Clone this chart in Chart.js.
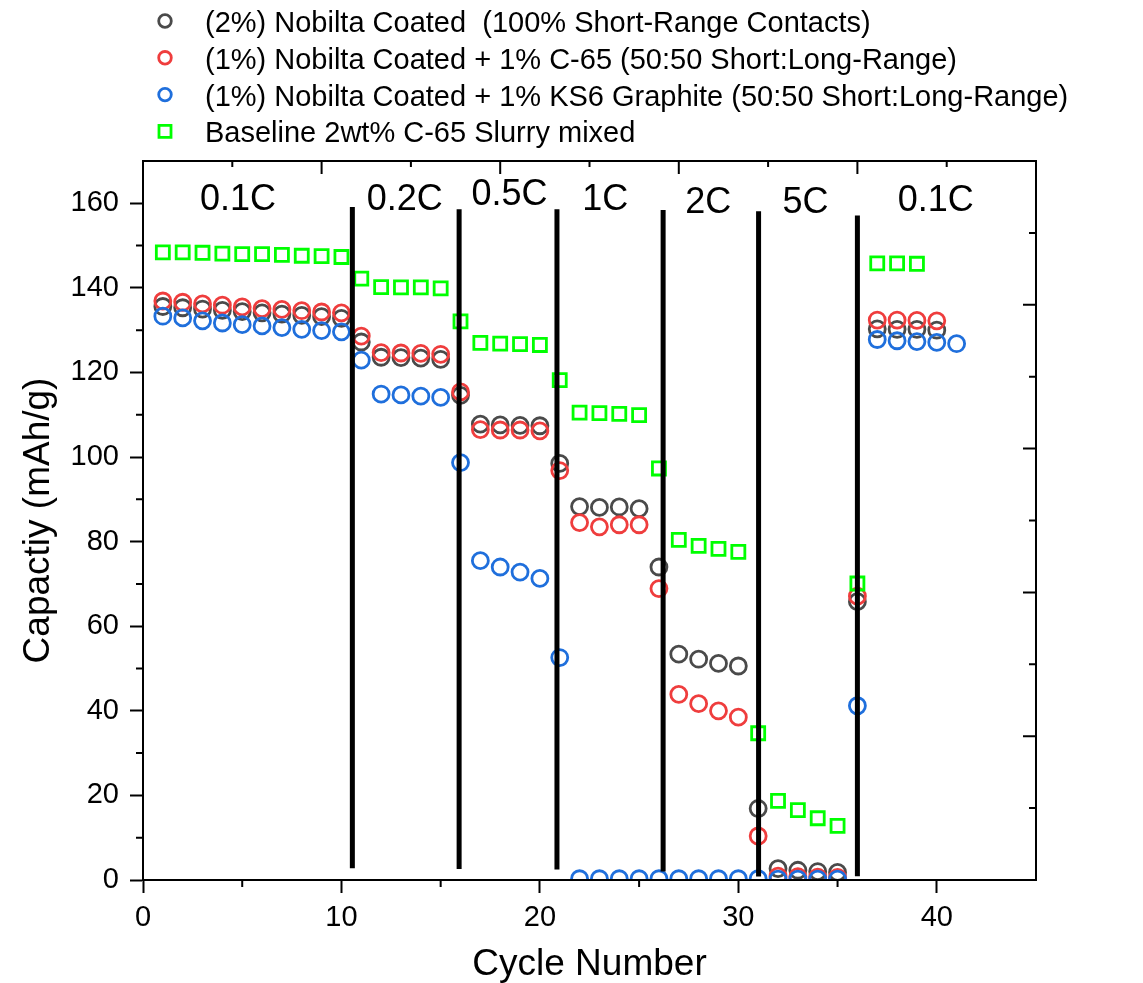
<!DOCTYPE html>
<html>
<head>
<meta charset="utf-8">
<title>Rate capability</title>
<script src="https://cdn.jsdelivr.net/npm/chart.js@4.4.1/dist/chart.umd.min.js"></script>
<style>
  html, body { margin: 0; padding: 0; background: #ffffff; }
  #wrap { width: 1143px; height: 983px; }
</style>
</head>
<body>
<div id="wrap"><canvas id="rateChart" width="1143" height="983"></canvas></div>
<script>
// ---- data ----
const cycles = [1,2,3,4,5,6,7,8,9,10,11,12,13,14,15,16,17,18,19,20,21,22,23,24,25,26,27,28,29,30,31,32,33,34,35,36,37,38,39,40,41];

// (2%) Nobilta coated, 100% short-range contacts
const nobilta2 = [135.6,135.3,135.0,134.7,134.4,134.1,133.8,133.5,133.2,132.8,
                  127.2,123.6,123.5,123.4,123.1,
                  114.6,107.8,107.6,107.5,107.4,
                  98.5,88.3,88.1,88.2,87.8,
                  74.0,53.4,52.2,51.2,50.6,
                  16.9,2.7,2.3,2.0,1.8,
                  65.8,130.3,130.2,130.2,130.0,null];

// (1%) Nobilta coated + 1% C-65
const nobiltaC65 = [136.9,136.6,136.2,135.9,135.5,135.1,134.9,134.6,134.3,134.1,
                    128.6,124.7,124.6,124.5,124.3,
                    115.4,106.5,106.4,106.4,106.2,
                    96.8,84.5,83.5,84.0,84.0,
                    68.9,43.9,41.7,40.0,38.5,
                    10.4,0.9,0.8,0.7,0.6,
                    67.1,132.4,132.4,132.3,132.2,null];

// (1%) Nobilta coated + 1% KS6 graphite
const nobiltaKS6 = [133.3,132.9,132.2,131.7,131.3,131.0,130.6,130.2,129.9,129.6,
                    122.9,114.9,114.7,114.4,114.1,
                    98.7,75.5,74.0,72.8,71.3,
                    52.6,0.3,0.3,0.3,0.3,
                    0.3,0.3,0.3,0.3,0.3,
                    0.3,0.2,0.2,0.2,0.2,
                    41.2,127.8,127.5,127.3,127.1,126.8];

// Baseline 2wt% C-65, slurry mixed
const baselineC65 = [148.4,148.4,148.3,148.1,148.0,148.0,147.8,147.6,147.5,147.3,
                     142.2,140.2,140.1,140.1,139.9,
                     132.1,127.0,126.8,126.7,126.5,
                     118.2,110.5,110.4,110.2,109.9,
                     97.3,80.4,79.0,78.3,77.6,
                     34.7,18.7,16.5,14.6,12.8,
                     70.1,145.8,145.8,145.7,null,null];

const seriesNames = [
  '(2%) Nobilta Coated  (100% Short-Range Contacts)',
  '(1%) Nobilta Coated + 1% C-65 (50:50 Short:Long-Range)',
  '(1%) Nobilta Coated + 1% KS6 Graphite (50:50 Short:Long-Range)',
  'Baseline 2wt% C-65 Slurry mixed'
];

// C-rate steps: boundaries between steps (cycle number) and the span of each separator line
const stepBounds = [10.55, 15.93, 20.86, 26.21, 31.02, 36.0];
const stepLineLow = [2.8, 2.6, 2.5, 2.0, 0.8, 0.9];
const stepLineHigh = [159.1, 158.6, 158.6, 158.4, 158.1, 157.1];

// C-rate names with their anchor (cycle, capacity) for the text baseline
const rateNames = ['0.1C', '0.2C', '0.5C', '1C', '2C', '5C', '0.1C'];
const rateAt = [4.79, 13.19, 18.47, 23.29, 28.48, 33.39, 39.95];
const rateBase = [158.4, 158.5, 159.6, 158.4, 157.6, 157.6, 158.2];

const xTicks = [0, 10, 20, 30, 40];
const yTicks = [0, 20, 40, 60, 80, 100, 120, 140, 160];

// ---- helpers ----
const FONT = '"Liberation Sans", Arial, Helvetica, sans-serif';

function toPoints(values) {
  const pts = [];
  values.forEach((v, i) => { if (v !== null) pts.push({ x: cycles[i], y: v }); });
  return pts;
}

function markerSet(label, values, color, shape, order) {
  const isRect = shape === 'rect';
  return {
    label: label,
    data: toPoints(values),
    inKey: true,
    pointStyle: shape,
    pointRadius: isRect ? 9.2 : 8,
    pointBorderWidth: 2.8,
    pointBorderColor: color,
    pointBackgroundColor: 'rgba(0,0,0,0)',
    borderColor: color,
    backgroundColor: 'rgba(0,0,0,0)',
    showLine: false,
    clip: 0,
    order: order
  };
}

const datasets = [
  markerSet(seriesNames[0], nobilta2, '#4a4a4a', 'circle', 4),
  markerSet(seriesNames[1], nobiltaC65, '#ef3d3d', 'circle', 3),
  markerSet(seriesNames[2], nobiltaKS6, '#1f6fdc', 'circle', 2),
  markerSet(seriesNames[3], baselineC65, '#00ff00', 'rect', 1)
];

stepBounds.forEach((c, i) => {
  datasets.push({
    label: 'step ' + (i + 1),
    data: [{ x: c, y: stepLineLow[i] }, { x: c, y: stepLineHigh[i] }],
    inKey: false,
    showLine: true,
    borderColor: '#000000',
    borderWidth: 5,
    pointRadius: 0,
    order: 0
  });
});

// ---- plugins ----
// Closed frame: top/right axis lines with inward ticks, plus minor ticks on bottom/left
const framePlugin = {
  id: 'frame',
  afterDraw(chart) {
    const { ctx, chartArea: a } = chart;
    const xs = chart.scales.x, ys = chart.scales.y;
    ctx.save();
    ctx.strokeStyle = '#000';
    ctx.lineWidth = 2;
    ctx.beginPath();
    ctx.moveTo(a.left - 1, a.top);
    ctx.lineTo(a.right, a.top);
    ctx.lineTo(a.right, a.bottom + 1);
    ctx.stroke();

    ctx.beginPath();
    // minor ticks, outward
    for (let v = 5; v < 45; v += 10) {
      const px = xs.getPixelForValue(v);
      ctx.moveTo(px, a.bottom); ctx.lineTo(px, a.bottom + 7);
    }
    for (let v = 10; v < 170; v += 20) {
      const py = ys.getPixelForValue(v);
      ctx.moveTo(a.left, py); ctx.lineTo(a.left - 7, py);
    }
    // top axis: ten divisions, inward
    for (let k = 1; k < 10; k++) {
      const px = xs.getPixelForValue(xs.max * k / 10);
      ctx.moveTo(px, a.top); ctx.lineTo(px, a.top + (k % 2 === 0 ? 13 : 6));
    }
    // right axis: ten divisions, inward
    for (let k = 1; k < 10; k++) {
      const py = ys.getPixelForValue(ys.max * k / 10);
      ctx.moveTo(a.right, py); ctx.lineTo(a.right - (k % 2 === 0 ? 13 : 7), py);
    }
    ctx.stroke();
    ctx.restore();
  }
};

// C-rate names above each step
const ratePlugin = {
  id: 'rateNames',
  afterDatasetsDraw(chart) {
    const { ctx } = chart;
    const xs = chart.scales.x, ys = chart.scales.y;
    ctx.save();
    ctx.fillStyle = '#000';
    ctx.font = '36px ' + FONT;
    ctx.textAlign = 'center';
    ctx.textBaseline = 'alphabetic';
    rateNames.forEach((t, i) => {
      ctx.fillText(t, xs.getPixelForValue(rateAt[i]), ys.getPixelForValue(rateBase[i]));
    });
    ctx.restore();
  }
};

// Series key stacked above the plot
const keyPlugin = {
  id: 'seriesKey',
  afterDraw(chart) {
    const { ctx } = chart;
    const sets = chart.data.datasets.filter(d => d.inKey);
    ctx.save();
    ctx.font = '29px ' + FONT;
    ctx.textAlign = 'left';
    ctx.textBaseline = 'alphabetic';
    sets.forEach((ds, i) => {
      const base = 32 + i * 36.8;
      const cy = base - 11;
      const cx = 165;
      ctx.strokeStyle = ds.pointBorderColor;
      ctx.lineWidth = 2.8;
      ctx.beginPath();
      if (ds.pointStyle === 'rect') {
        ctx.rect(cx - 6, cy - 6, 12, 12);
      } else {
        ctx.arc(cx, cy, 6.3, 0, Math.PI * 2);
      }
      ctx.stroke();
      ctx.fillStyle = '#000';
      ctx.fillText(ds.label, 205, base);
    });
    ctx.restore();
  }
};

// ---- chart ----
new Chart(document.getElementById('rateChart'), {
  type: 'scatter',
  data: { datasets: datasets },
  options: {
    responsive: false,
    animation: false,
    events: [],
    layout: { padding: { left: 0, right: 107, top: 161, bottom: 0 } },
    plugins: { legend: { display: false }, tooltip: { enabled: false } },
    scales: {
      x: {
        type: 'linear',
        min: 0, max: 45,
        afterFit(s) { s.height = 103; },
        afterBuildTicks(s) { s.ticks = xTicks.map(v => ({ value: v })); },
        ticks: { color: '#000', font: { family: FONT, size: 29 }, padding: 8 },
        grid: { drawOnChartArea: false, drawTicks: true, tickLength: 13, tickWidth: 2, tickColor: '#000' },
        border: { display: true, color: '#000', width: 2, z: 1 },
        title: { display: true, text: 'Cycle Number', color: '#000', font: { family: FONT, size: 37 }, padding: { top: 0, bottom: -4 } }
      },
      y: {
        type: 'linear',
        min: 0, max: 170,
        afterFit(s) { s.width = 143; },
        afterBuildTicks(s) { s.ticks = yTicks.map(v => ({ value: v })); },
        ticks: { color: '#000', font: { family: FONT, size: 29 }, padding: 11 },
        grid: { drawOnChartArea: false, drawTicks: true, tickLength: 13, tickWidth: 2, tickColor: '#000' },
        border: { display: true, color: '#000', width: 2, z: 1 },
        title: { display: true, text: 'Capactiy (mAh/g)', color: '#000', font: { family: FONT, size: 37 }, padding: { top: 17, bottom: 0 } }
      }
    }
  },
  plugins: [ratePlugin, framePlugin, keyPlugin]
});
</script>
</body>
</html>
